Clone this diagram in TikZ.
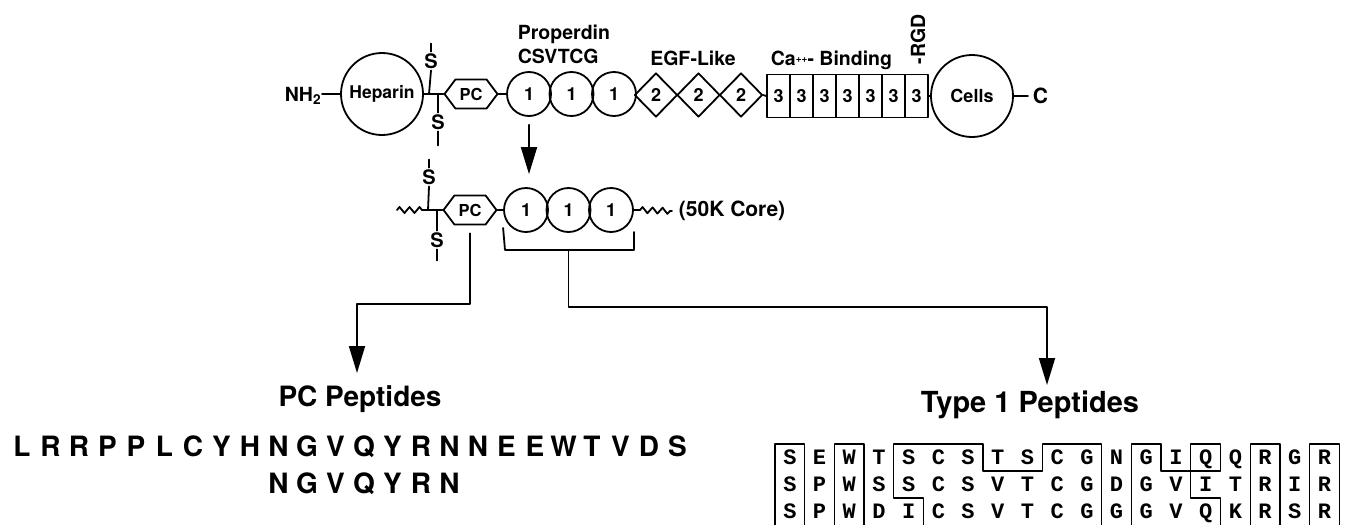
\documentclass[tikz,border=0pt]{standalone}
\usepackage{fontspec}
\setmainfont{TeX Gyre Heros}
\setmonofont{Liberation Mono}
\usetikzlibrary{arrows.meta,shapes.geometric,shapes.symbols,decorations.pathmorphing}
\newcommand{\hv}[1]{\fontsize{#1}{#1}\selectfont\bfseries}

\begin{document}
\begin{tikzpicture}[x=1pt,y=-1pt,>={Triangle[length=27pt,width=16pt]},line width=1.8pt,line join=round,line cap=round,
        dom/.style={circle,draw,minimum size=44pt,inner sep=0pt,font=\hv{18}},
        egf/.style={diamond,draw,minimum width=43pt,minimum height=44pt,inner sep=0pt,font=\hv{18}},
        cab/.style={rectangle,draw,minimum width=23pt,minimum height=43pt,inner sep=0pt,font=\hv{18}},
        big/.style={circle,draw,minimum size=82pt,inner sep=0pt},
        pcbox/.style={signal,signal to=east and west,signal pointer angle=106,draw,minimum width=53pt,minimum height=29pt,inner sep=0pt,font=\hv{16.5}},
        lab/.style={inner sep=0pt,font=\hv{19.5}},
        sul/.style={inner sep=1pt,font=\hv{20}},
        seq/.style={inner sep=0pt,anchor=base,font=\hv{28}},
        wavy/.style={decorate,decoration={zigzag,amplitude=3pt,segment length=10pt}},
        aa/.style={inner sep=0pt,anchor=base,font=\ttfamily\hv{22}}]
        \useasboundingbox (0,0) rectangle (1350,525);
        \node[big,font=\hv{17.5}] (hep) at (382,94) {Heparin};
        \node[lab,font=\hv{19.5},anchor=east] (nh) at (322,96) {NH\textsubscript{2}};
        \node[pcbox] (pc) at (471,94) {PC};
        \foreach \i in {1,2,3} \node[dom] (p\i) at (486.5+42.5*\i,94) {1};
        \foreach \i in {1,2,3} \node[egf] (e\i) at (613.5+42.5*\i,95) {2};
        \foreach \i in {1,...,7} \node[cab] (b\i) at (755.5+23*\i,96) {3};
        \node[big,font=\hv{18}] (cells) at (972,96) {Cells};
        \node[lab,font=\hv{21},anchor=west] (cterm) at (1032,96) {C};
        \node[sul] (sa) at (431,61) {S};
        \node[sul] (sb) at (438,122) {S};
        \coordinate (ja) at (429,94);
        \coordinate (jb) at (438,94);
        \draw (hep.west) -- (hep.west -| nh.east);
        \draw (hep.east) -- (pc.west);
        \draw (ja) -- (sa.south);
        \draw (jb) -- (sb.north);
        \draw (sa.north) -- ++(0,-8);
        \draw (sb.south) -- ++(0,14);
        \draw (pc.east) -- (p1.west);
        \draw (e3.east) -- (b1.west);
        \draw (b7.east) -- (cells.west);
        \draw (cells.east) -- ([xshift=-4pt]cterm.west);
        \node[lab,anchor=base west] (prop) at (517,39) {Properdin};
        \node[lab,anchor=base west] (csv) at (517,63) {CSVTCG};
        \node[lab,anchor=base] (egfl) at (693,65) {EGF-Like};
        \node[lab,anchor=base west] (cabl) at (770,65) {Ca{\hv{10}\raisebox{3pt}{++}}- Binding};
        \node[lab,anchor=base west,rotate=90] (rgd) at (925,65) {-RGD};
        \node[pcbox] (mpc) at (470,210) {PC};
        \foreach \i in {1,2,3} \node[dom] (m\i) at (483.5+42.5*\i,210) {1};
        \node[sul] (msa) at (429,177) {S};
        \node[sul] (msb) at (437,240) {S};
        \coordinate (w0) at (397,210);
        \coordinate (w1) at (425,210);
        \coordinate (w2) at (640,210);
        \node[lab,font=\hv{21},anchor=west] (core) at (678,211) {(50K Core)};
        \draw[wavy] (w0) -- (w1);
        \draw (w1) -- (mpc.west);
        \draw (428,210) -- (msa.south);
        \draw (437,210) -- (msb.north);
        \draw (msa.north) -- ++(0,-8);
        \draw (msb.south) -- ++(0,11);
        \draw (mpc.east) -- (m1.west);
        \draw (m3.east) -- (w2);
        \draw[wavy] (w2) -- ([xshift=-6pt]core.west);
        \draw[->] ([yshift=-8pt]p1.south) -- ([yshift=13pt]p1.south |- m1.north);
        \coordinate (bl) at (505,250);
        \coordinate (t0) at (357,373);
        \coordinate (t1) at (1047,385);
        \draw ([yshift=-18pt]m1.west) -- (bl) -| ([yshift=-22pt]m3.east);
        \draw[->] (m2.south |- bl) |- ([yshift=78pt]t1) -- (t1);
        \draw[->] ([yshift=-8pt]mpc.south) |- ([yshift=69pt]t0) -- (t0);
        \node[seq] (pcp) at (360,406) {PC Peptides};
        \node[seq,font=\hv{29}] (tp) at (1030,412) {Type 1 Peptides};
        \foreach \a [count=\i] in {L,R,R,P,P,L,C,Y,H,N,G,V,Q,Y,R,N,N,E,E,W,T,V,D,S}
                \node[seq] (s\i) at (-6.5+28.5*\i,456) {\a};
        \foreach \a [count=\i from 10] in {N,G,V,Q,Y,R,N}
                \node[seq] (n\i) at (-6.5+28.5*\i,493) {\a};
        \begin{scope}[shift={(775,444)},x=29.7pt,y=-27pt,line width=1.3pt]
                \foreach \row [count=\r] in {{S,E,W,T,S,C,S,T,S,C,G,N,G,I,Q,Q,R,G,R},{S,P,W,S,S,C,S,V,T,C,G,D,G,V,I,T,R,I,R},{S,P,W,D,I,C,S,V,T,C,G,G,G,V,Q,K,R,S,R}}
                        \foreach \a [count=\c] in \row
                                \node[aa] (a\r-\c) at ([yshift=-6.5pt]\c-0.5,\r-0.5) {\a};
                \draw (0,0) rectangle (1,3.03);
                \draw (2,0) rectangle (3,3.03);
                \draw (4,0) -- (7,0) -- (7,1) -- (9,1) -- (9,0) -- (11,0) -- (11,3.03) -- (5,3.03) -- (5,2) -- (4,2) -- cycle;
                \draw (12,0) -- (13,0) -- (13,1) -- (14,1) -- (14,2) -- (15,2) -- (15,3.03) -- (12,3.03) -- cycle;
                \draw (14,0) rectangle (15,1);
                \draw (16,0) rectangle (17,3.03);
                \draw (18,0) rectangle (19,3.03);
        \end{scope}
\end{tikzpicture}
\end{document}
